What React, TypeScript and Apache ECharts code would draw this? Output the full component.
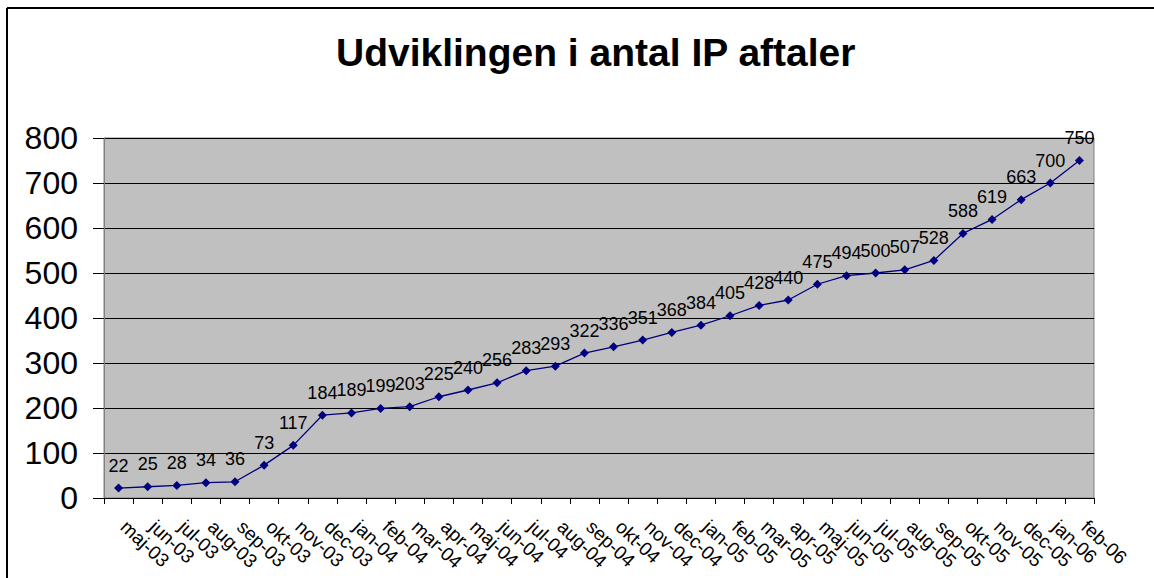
import React, { useEffect, useRef } from "react";
import * as echarts from "echarts";

const categories = [
  "maj-03", "jun-03", "jul-03", "aug-03", "sep-03", "okt-03", "nov-03", "dec-03",
  "jan-04", "feb-04", "mar-04", "apr-04", "maj-04", "jun-04", "jul-04", "aug-04",
  "sep-04", "okt-04", "nov-04", "dec-04", "jan-05", "feb-05", "mar-05", "apr-05",
  "maj-05", "jun-05", "jul-05", "aug-05", "sep-05", "okt-05", "nov-05", "dec-05",
  "jan-06", "feb-06",
];
const values = [
  22, 25, 28, 34, 36, 73, 117, 184, 189, 199, 203, 225, 240, 256, 283, 293,
  322, 336, 351, 368, 384, 405, 428, 440, 475, 494, 500, 507, 528, 588, 619, 663,
  700, 750,
];
const titleText = "Udviklingen i antal IP aftaler";

export default function App() {
  const ref = useRef<HTMLDivElement>(null);
  useEffect(() => {
    document.body.style.margin = "0";
    const chart = echarts.init(ref.current!, null, { renderer: "svg" });
    const font = "'Liberation Sans', Arial, sans-serif";
    chart.setOption({
      animation: false,
      backgroundColor: "#ffffff",
      title: {
        text: titleText,
        left: 331,
        top: 28,
        textStyle: { fontSize: 39, fontWeight: "bold", color: "#000", fontFamily: font },
      },
      graphic: [
        { type: "line", shape: { x1: 7, y1: 8, x2: 1154, y2: 8 }, style: { stroke: "#000", lineWidth: 2 } },
        { type: "line", shape: { x1: 7, y1: 8, x2: 7, y2: 578 }, style: { stroke: "#000", lineWidth: 2 } },
      ],
      grid: {
        left: 104,
        top: 138,
        right: 60,
        bottom: 80,
        show: true,
        backgroundColor: "#C0C0C0",
        borderColor: "#808080",
        borderWidth: 1,
      },
      xAxis: {
        type: "category",
        data: categories,
        boundaryGap: true,
        axisLine: { show: true, lineStyle: { color: "#000", width: 1 } },
        axisTick: { show: true, length: 6, alignWithLabel: false, lineStyle: { color: "#000" } },
        axisLabel: {
          interval: 0,
          rotate: -43,
          fontSize: 19,
          color: "#000",
          fontFamily: font,
          margin: 21,
          padding: [0, 0, 0, 7],
        },
        splitLine: { show: false },
      },
      yAxis: {
        type: "value",
        min: 0,
        max: 800,
        interval: 100,
        axisLine: { show: true, lineStyle: { color: "#808080" } },
        axisTick: { show: true, length: 11, lineStyle: { color: "#000" } },
        axisLabel: { fontSize: 32, color: "#000", fontFamily: font, margin: 26 },
        splitLine: { show: true, lineStyle: { color: "#000", width: 1 } },
      },
      series: [
        {
          type: "line",
          data: values,
          symbol: "diamond",
          symbolSize: 9,
          itemStyle: { color: "#000080" },
          lineStyle: { color: "#000080", width: 1.3 },
          label: {
            show: true,
            position: "top",
            distance: 9,
            fontSize: 18,
            color: "#000",
            fontFamily: font,
          },
        },
      ],
    });
    return () => chart.dispose();
  }, []);
  return <div ref={ref} style={{ width: 1154, height: 578 }} />;
}
